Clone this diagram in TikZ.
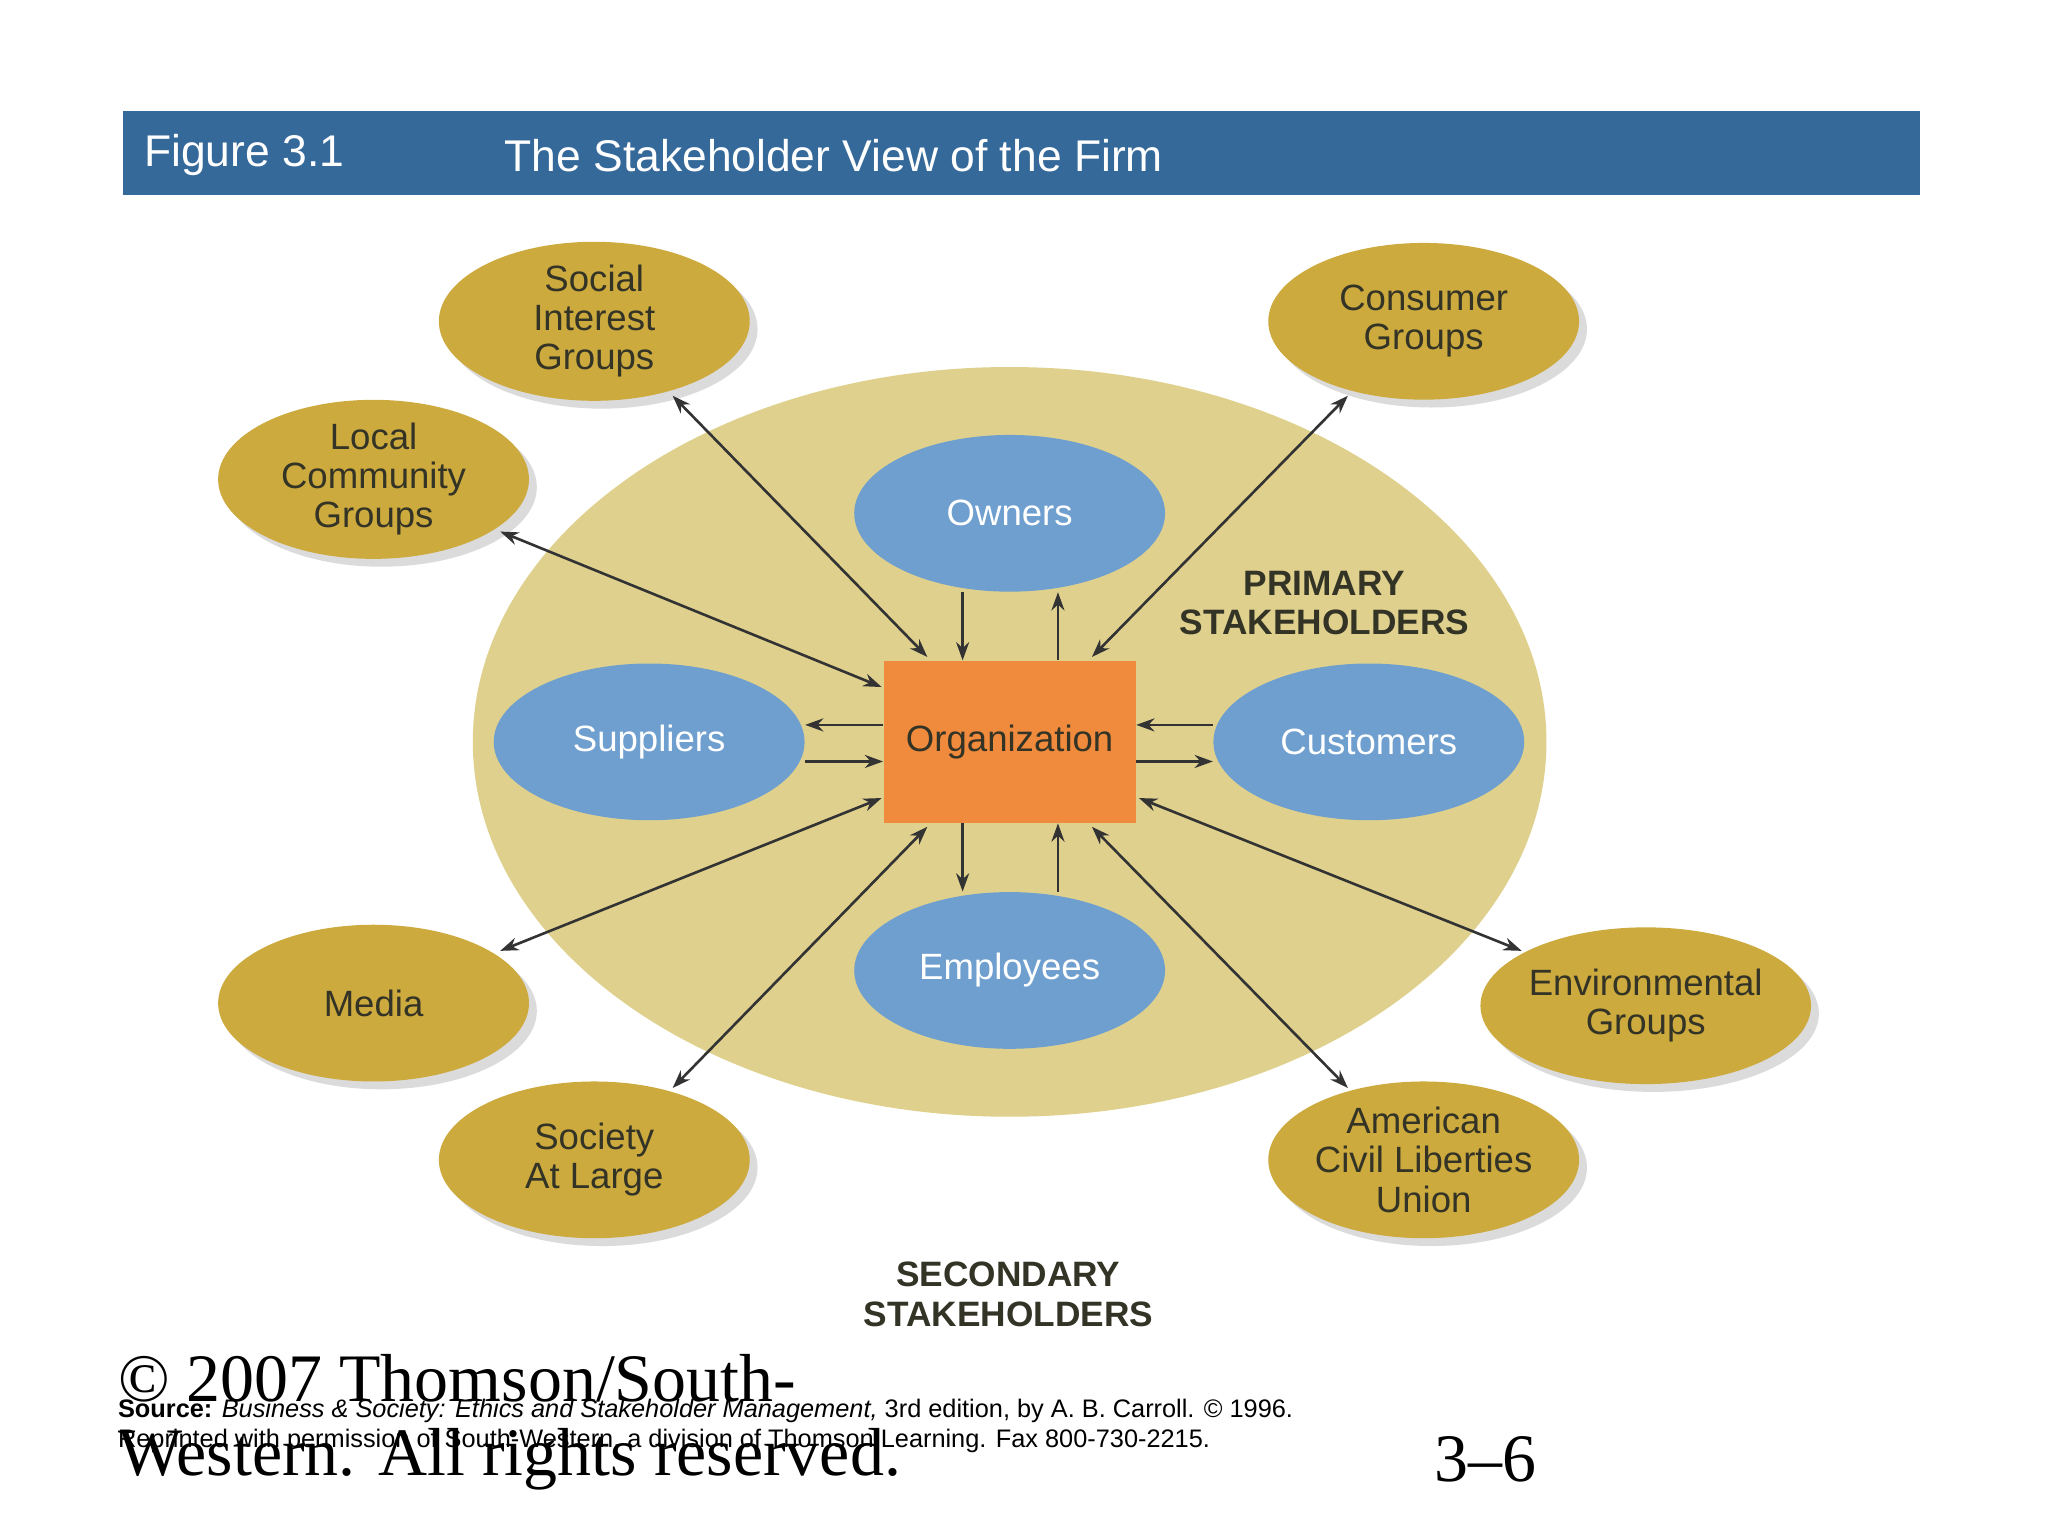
\documentclass[tikz,border=0pt]{standalone}
\usepackage{fontspec}
\setmainfont{Liberation Sans}
\newfontfamily\timesf{Liberation Serif}
\usetikzlibrary{shadows,arrows.meta,shapes.geometric}
\definecolor{hdr}{HTML}{35699A}
\definecolor{tan}{HTML}{DFD18D}
\definecolor{blu}{HTML}{6E9FCF}
\definecolor{gld}{HTML}{CDAA3E}
\definecolor{org}{HTML}{F08A3C}
\definecolor{txt}{HTML}{333326}
\tikzset{
 blue/.style={ellipse,fill=blu,minimum width=119pt,minimum height=60pt,text=white,font=\fontsize{14}{16}\selectfont},
 gold/.style={ellipse,fill=gld,minimum width=119pt,minimum height=60pt,text=txt,align=center,font=\fontsize{14}{15}\selectfont,drop shadow={fill=black!40,opacity=.35,shadow xshift=3pt,shadow yshift=-3pt}},
 arr/.style={-{Stealth[length=7pt,width=5pt]},line width=1pt,draw=black!80},
 darr/.style={{Stealth[length=7pt,width=5pt]}-{Stealth[length=7pt,width=5pt]},line width=1pt,draw=black!80},
}
\begin{document}
\begin{tikzpicture}[x=0.5pt,y=-0.5pt,every node/.style={inner sep=0}]
\useasboundingbox[fill=white] (0,0) rectangle (1568,1176);
\fill[hdr] (94,85) rectangle (1470,149);
\node[anchor=west,text=white,font=\fontsize{17}{18}\selectfont] (fig) at (110,119) {Figure 3.1};
\node[anchor=west,text=white,font=\fontsize{17}{18}\selectfont] (ttl) at (386,119) {The Stakeholder View of the Firm};
\node[ellipse,fill=tan,minimum width=411pt,minimum height=287pt] (big) at (773,568) {};
\node[fill=org,minimum width=96.5pt,minimum height=62pt,text=txt,font=\fontsize{14}{16}\selectfont] (o) at (773,568) {Organization};
\node[blue] (own) at (773,393) {Owners};
\node[blue] (sup) at (497,568) {Suppliers};
\node[blue] (cus) at (1048,568) {Customers};
\node[blue] (emp) at (773,743) {Employees};
\node[gold] (soc) at (455,246) {Social\\Interest\\Groups};
\node[gold] (con) at (1090,246) {Consumer\\Groups};
\node[gold] (loc) at (286,367) {Local\\Community\\Groups};
\node[gold] (med) at (286,768) {Media};
\node[gold] (env) at (1260,770) {Environmental\\Groups};
\node[gold] (sal) at (455,888) {Society\\At Large};
\node[gold] (acl) at (1090,888) {American\\Civil Liberties\\Union};
\node[align=center,font=\bfseries\fontsize{13.5}{15}\selectfont,text=txt] (pri) at (1014,462) {PRIMARY\\STAKEHOLDERS};
\node[align=center,font=\bfseries\fontsize{13.5}{15}\selectfont,text=txt] (sec) at (772,991) {SECONDARY\\STAKEHOLDERS};
\draw[arr] (own.south -| 737,0) -- (o.north -| 737,0);
\draw[arr] (o.north -| 810,0) -- (own.south -| 810,0);
\draw[arr] (emp.north -| 810,0) -- (o.south -| 810,0);
\draw[arr] (o.south -| 737,0) -- (emp.north -| 737,0);
\draw[arr] (o.west |- 0,555) -- (sup.east |- 0,555);
\draw[arr] (sup.east |- 0,583) -- (o.west |- 0,583);
\draw[arr] (cus.west |- 0,555) -- (o.east |- 0,555);
\draw[arr] (o.east |- 0,583) -- (cus.west |- 0,583);
\coordinate (a1) at (515,303); \coordinate (b1) at (710,503);
\coordinate (a2) at (1032,303); \coordinate (b2) at (836,503);
\coordinate (a3) at (383,407); \coordinate (b3) at (675,526);
\coordinate (a4) at (383,728); \coordinate (b4) at (675,611);
\coordinate (a5) at (1165,728); \coordinate (b5) at (872,611);
\coordinate (a6) at (515,833); \coordinate (b6) at (710,633);
\coordinate (a7) at (1032,833); \coordinate (b7) at (836,633);
\foreach \i in {1,...,7} \draw[darr] (a\i) -- (b\i);
\node[anchor=west,font=\timesf\fontsize{26}{28}\selectfont] (c1) at (90,1055) {© 2007 Thomson/South-};
\node[anchor=west,font=\timesf\fontsize{26}{28}\selectfont] (c2) at (90,1117) {Western. All rights reserved.};
\node[anchor=west,font=\timesf\fontsize{26}{28}\selectfont] (pg) at (1098,1117) {3–6};
\node[anchor=west,font=\fontsize{9.7}{10}\selectfont] (s1) at (90,1080) {\textbf{Source:} \textit{Business \& Society: Ethics and Stakeholder Management,} 3rd edition, by A. B. Carroll. © 1996.};
\node[anchor=west,font=\fontsize{9.7}{10}\selectfont] (s2) at (90,1103) {Reprinted with permission of South-Western, a division of Thomson Learning. Fax 800-730-2215.};
\end{tikzpicture}
\end{document}
